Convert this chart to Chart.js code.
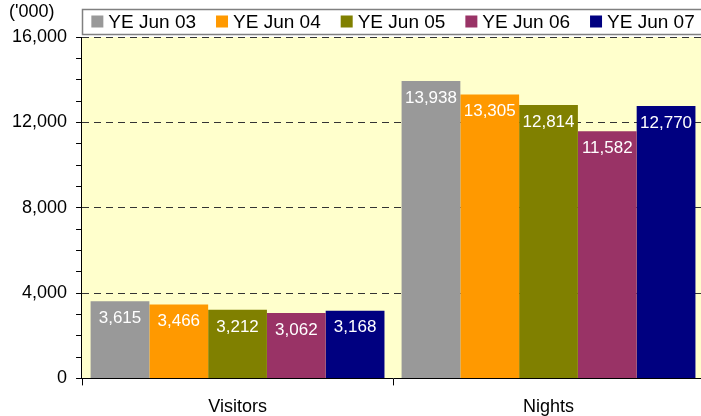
<!DOCTYPE html>
<html>
<head>
<meta charset="utf-8">
<script src="https://cdn.jsdelivr.net/npm/chart.js@4/dist/chart.umd.min.js"></script>
<style>
html,body{margin:0;padding:0;background:#fff;overflow:hidden;}
#wrap{width:701px;height:416px;overflow:hidden;}
canvas{display:block;}
</style>
</head>
<body>
<div id="wrap"><canvas id="c" width="704" height="416"></canvas></div>
<script>
const categories = ['Visitors', 'Nights'];
const seriesLabels = ['YE Jun 03', 'YE Jun 04', 'YE Jun 05', 'YE Jun 06', 'YE Jun 07'];
const ye03 = [3615, 13938];
const ye04 = [3466, 13305];
const ye05 = [3212, 12814];
const ye06 = [3062, 11582];
const ye07 = [3168, 12770];
const seriesColors = ['#999999', '#FF9900', '#808000', '#993366', '#000080'];
const yMin = 0, yMax = 16000, yMajor = 4000, yMinor = 1000;
const unitLabel = "('000)";

const FONT = '"Liberation Sans", Arial, sans-serif';
const fmt = v => v.toLocaleString('en-US');

const plotBg = {
  id: 'plotBg',
  beforeDraw(chart) {
    const {ctx, chartArea: a} = chart;
    ctx.save();
    ctx.fillStyle = '#FFFFCC';
    ctx.fillRect(a.left, a.top, a.right - a.left, a.bottom - a.top);
    ctx.restore();
  }
};

const barLabels = {
  id: 'barLabels',
  afterDatasetsDraw(chart) {
    const ctx = chart.ctx;
    ctx.save();
    ctx.fillStyle = '#FFFFFF';
    ctx.font = '17px ' + FONT;
    ctx.textAlign = 'center';
    ctx.textBaseline = 'middle';
    chart.data.datasets.forEach((ds, i) => {
      chart.getDatasetMeta(i).data.forEach((bar, j) => {
        ctx.fillText(fmt(ds.data[j]), bar.x, bar.y + 17);
      });
    });
    ctx.restore();
  }
};

const axisLine = {
  id: 'axisLine',
  afterDatasetsDraw(chart) {
    const {ctx, chartArea: a} = chart;
    const x = Math.round(a.left) - 0.5;
    ctx.save();
    ctx.strokeStyle = '#000';
    ctx.lineWidth = 1;
    ctx.setLineDash([]);
    ctx.beginPath();
    ctx.moveTo(x, a.top);
    ctx.lineTo(x, a.bottom);
    ctx.stroke();
    ctx.restore();
  }
};

const boxLegend = {
  id: 'boxLegend',
  afterDraw(chart) {
    const {ctx, chartArea: a, width} = chart;
    const top = 9, bottom = 34, mid = (top + bottom) / 2;
    ctx.save();
    ctx.fillStyle = '#FFFFFF';
    ctx.fillRect(a.left, top, width - a.left + 5, bottom - top);
    ctx.strokeStyle = '#808080';
    ctx.lineWidth = 1.5;
    ctx.strokeRect(Math.round(a.left) + 0.5, top + 0.5, width - a.left + 5, bottom - top);
    ctx.font = '19px ' + FONT;
    const box = 12, gapBT = 5, gapItems = 20;
    const items = chart.data.datasets.map(ds => ({label: ds.label, color: ds.backgroundColor, w: box + gapBT + ctx.measureText(ds.label).width}));
    const total = items.reduce((s, it) => s + it.w, 0) + gapItems * (items.length - 1);
    let x = (a.left + a.right) / 2 - total / 2;
    ctx.textBaseline = 'middle';
    ctx.textAlign = 'left';
    items.forEach(it => {
      ctx.fillStyle = it.color;
      ctx.fillRect(x, mid - box / 2, box, box);
      ctx.fillStyle = '#000';
      ctx.fillText(it.label, x + box + gapBT, mid + 1);
      x += it.w + gapItems;
    });
    ctx.font = '18px ' + FONT;
    ctx.fillText(unitLabel, 9, 12);
    ctx.restore();
  }
};

const dataArrays = [ye03, ye04, ye05, ye06, ye07];

new Chart(document.getElementById('c'), {
  type: 'bar',
  data: {
    labels: categories,
    datasets: seriesLabels.map((l, i) => ({
      label: l,
      data: dataArrays[i],
      backgroundColor: seriesColors[i],
      borderWidth: 0
    }))
  },
  options: {
    responsive: false,
    animation: false,
    devicePixelRatio: 1,
    layout: {padding: {top: 37, left: 3, right: 0, bottom: -13}},
    datasets: {bar: {categoryPercentage: 0.945, barPercentage: 1}},
    plugins: {legend: {display: false}, tooltip: {enabled: false}},
    scales: {
      x: {
        grid: {offset: true, drawOnChartArea: false, tickLength: 7, tickColor: '#000', tickWidth: 1},
        border: {color: '#000', width: 1},
        ticks: {color: '#000', font: {family: FONT, size: 18}, padding: 11}
      },
      y: {
        min: yMin, max: yMax,
        border: {display: false, color: '#000', width: 1, dash: [7, 5]},
        grid: {
          color: c => (c.tick && c.tick.value % yMajor === 0 && c.tick.value !== 0) ? '#333333' : 'rgba(0,0,0,0)',
          tickBorderDash: [],
          tickColor: '#000',
          tickLength: 6,
          lineWidth: 1
        },
        ticks: {
          stepSize: yMinor,
          autoSkip: false,
          color: '#000',
          font: {family: FONT, size: 18},
          padding: 9,
          callback: v => v % yMajor === 0 ? fmt(v) : ''
        }
      }
    }
  },
  plugins: [plotBg, barLabels, axisLine, boxLegend]
});
</script>
</body>
</html>
